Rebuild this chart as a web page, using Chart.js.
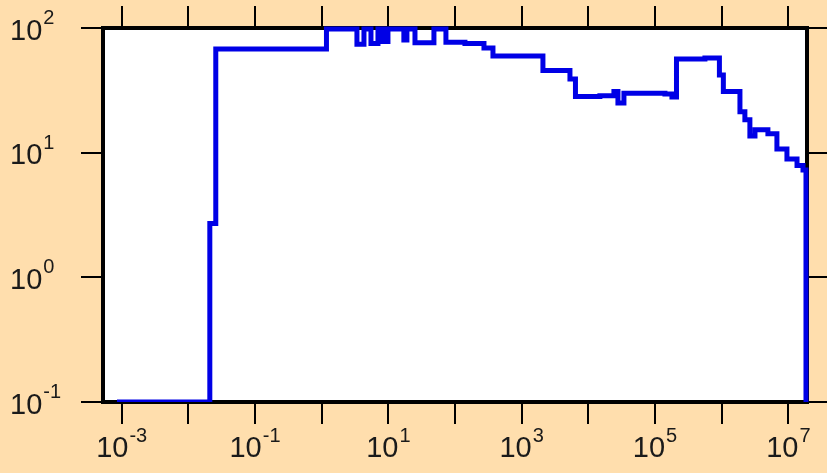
<!DOCTYPE html>
<html>
<head>
<meta charset="utf-8">
<script src="https://cdn.jsdelivr.net/npm/chart.js@4"></script>
<style>
  html, body { margin: 0; padding: 0; background: #FFDEAD; }
  #wrap { width: 827px; height: 473px; }
</style>
</head>
<body>
<div id="wrap"><canvas id="chart" width="827" height="473"></canvas></div>
<script>
// step positions (x) and the level that starts there (y)
const stepX = [8.5e-4, 0.021, 0.0258, 1.18, 3.38, 4.31, 5.49, 6.99, 8.30, 9.87, 17.1, 19.0,
  25.1, 48.3, 73.1, 141, 272, 371, 2084, 5300, 6410, 14900, 24200, 27800, 34200,
  141000, 179500, 210000, 561000, 925000, 1.06e6, 1.88e6, 2.23e6, 2.65e6, 3.16e6,
  4.94e6, 6.74e6, 9.53e6, 1.35e7, 1.66e7, 1.84e7];
const stepY = [0.1, 2.7, 68, 98, 74, 98, 75, 98, 78, 98, 80, 98,
  76, 98, 77, 75, 69, 59.6, 45.6, 39, 28.2, 28.6, 31, 25, 30,
  29.5, 28, 56.4, 57.5, 42, 30.9, 21.3, 18.4, 13.6, 15.3,
  14.2, 10.7, 8.9, 7.9, 7.25, 0.05];

// decade exponents for tick marks and for labels
const xTickExps = [-3, -2, -1, 0, 1, 2, 3, 4, 5, 6, 7];
const yTickExps = [-1, 0, 1, 2];
const xLabelExps = [-3, -1, 1, 3, 5, 7];
const yLabelExps = [-1, 0, 1, 2];

const X_MIN = Math.pow(10, -3.28);
const X_MAX = Math.pow(10, 7.28);
const Y_MIN = 0.1;
const Y_MAX = 100;

const FONT = '"Liberation Sans", Arial, sans-serif';

function decadeTicks(exps) {
  return scale => {
    scale.ticks = exps.map(e => ({ value: Math.pow(10, e) }));
  };
}

function axis(position, min, max, exps, size) {
  const horiz = position === 'top' || position === 'bottom';
  return {
    type: 'logarithmic',
    position: position,
    min: min,
    max: max,
    border: { display: false },
    grid: { display: true, drawOnChartArea: false, drawTicks: true, tickLength: 22, color: '#000', lineWidth: 2 },
    ticks: { display: false },
    afterBuildTicks: decadeTicks(exps),
    afterFit: s => { if (horiz) s.height = size; else s.width = size; }
  };
}

function drawPow(ctx, exp, x, y, centered) {
  ctx.font = '29px ' + FONT;
  const wb = ctx.measureText('10').width;
  ctx.font = '20px ' + FONT;
  const ws = ctx.measureText(String(exp)).width;
  const x0 = centered ? x - (wb + 1 + ws) / 2 : x;
  ctx.font = '29px ' + FONT;
  ctx.fillText('10', x0, y);
  ctx.font = '20px ' + FONT;
  ctx.fillText(String(exp), x0 + wb + 1, y - 15.5);
}

const framePlugin = {
  id: 'frame',
  beforeDraw(chart) {
    const { ctx, chartArea: a } = chart;
    ctx.save();
    ctx.fillStyle = '#ffffff';
    ctx.fillRect(a.left, a.top, a.right - a.left, a.bottom - a.top);
    ctx.restore();
  },
  beforeDatasetsDraw(chart) {
    const { ctx, chartArea: a } = chart;
    ctx.save();
    ctx.strokeStyle = '#000';
    ctx.lineWidth = 4;
    ctx.strokeRect(a.left, a.top, a.right - a.left, a.bottom - a.top);
    ctx.restore();
  },
  afterDraw(chart) {
    const ctx = chart.ctx;
    const xs = chart.scales.x, ys = chart.scales.y;
    ctx.save();
    ctx.fillStyle = '#1a1a1a';
    ctx.textBaseline = 'alphabetic';
    ctx.textAlign = 'left';
    xLabelExps.forEach(e => drawPow(ctx, e, xs.getPixelForValue(Math.pow(10, e)), 457, true));
    yLabelExps.forEach(e => drawPow(ctx, e, 10, ys.getPixelForValue(Math.pow(10, e)) + 11.5, false));
    ctx.restore();
  }
};

new Chart(document.getElementById('chart').getContext('2d'), {
  type: 'line',
  data: {
    datasets: [{
      data: stepX.map((x, i) => ({ x: x, y: stepY[i] })),
      borderColor: '#0000e6',
      borderWidth: 5,
      pointRadius: 0,
      fill: false,
      stepped: 'before',
      clip: { left: 3, top: 3, right: 3, bottom: 0 },
      xAxisID: 'x',
      yAxisID: 'y'
    }]
  },
  options: {
    responsive: false,
    animation: false,
    events: [],
    layout: { padding: 0 },
    plugins: { legend: { display: false }, tooltip: { enabled: false } },
    scales: {
      x: axis('bottom', X_MIN, X_MAX, xTickExps, 71),
      x2: axis('top', X_MIN, X_MAX, xTickExps, 28),
      y: axis('left', Y_MIN, Y_MAX, yTickExps, 103),
      y2: axis('right', Y_MIN, Y_MAX, yTickExps, 20)
    }
  },
  plugins: [framePlugin]
});
</script>
</body>
</html>
